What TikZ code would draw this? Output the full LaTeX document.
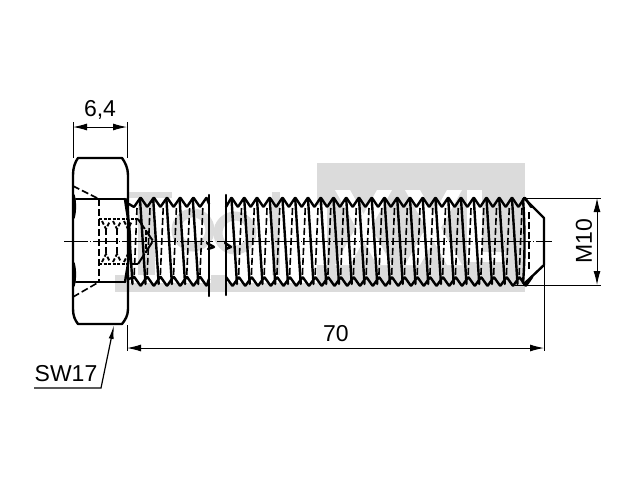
\documentclass[tikz,border=0pt]{standalone}
\usepackage{fontspec}
\setmainfont{Liberation Sans}
\usetikzlibrary{arrows.meta}
\tikzset{
  thick line/.style={line width=2.4pt, line join=round, line cap=round},
  wave line/.style={thick line, rounded corners=0.6pt},
  thin line/.style={line width=1pt},
  hidden line/.style={line width=1.6pt, dash pattern=on 7pt off 3pt},
  center line/.style={line width=1.2pt, dash pattern=on 24pt off 2pt on 1pt off 2pt},
  dim line/.style={line width=1pt, {Latex[length=14pt,width=7pt]}-{Latex[length=14pt,width=7pt]}},
  dim text/.style={font=\fontsize{23}{25}\selectfont, inner sep=0pt},
  water mark/.style={gray!28}
}
\begin{document}
\begin{tikzpicture}[x=1pt,y=-1pt]
  \useasboundingbox (0,0) rectangle (640,480);
  % watermark
  \fill[white] (0,0) rectangle (640,480);
  \fill[water mark] (317,163) rectangle (525,292);
  \fill[water mark] (115,283) rectangle (317,292);
  \fill[water mark] (115,275) rectangle (130,292);
  \fill[water mark] (211,275) rectangle (226,292);
  \fill[water mark] (128,192) rectangle (172,198);
  \fill[water mark] (138,198) rectangle (155,275);
  \fill[water mark] (272,192) rectangle (280,275);
  \draw[water mark, line width=9pt] (193,230) circle (17);
  \draw[water mark, line width=9pt] (235,233) circle (17);
  \fill[white] (335,190) -- (350,190) -- (392,265) -- (377,265) -- cycle;
  \fill[white] (377,190) -- (392,190) -- (350,265) -- (335,265) -- cycle;
  \fill[white] (405,190) -- (420,190) -- (462,265) -- (447,265) -- cycle;
  \fill[white] (447,190) -- (462,190) -- (420,265) -- (405,265) -- cycle;
  \fill[white] (317,205) rectangle (327,265);
  \fill[white] (467,190) rectangle (482,262);
  \fill[white] (467,252) rectangle (505,262);
  % thread, left part
  \draw[wave line] (129,204)
    \foreach \x in {134,147.2,...,200.5} { -- (\x,207) -- (\x+6.6,197.5) } -- (209,204);
  \draw[wave line] (129,279)
    \foreach \x in {134,147.2,...,200.5} { -- (\x,276.5) -- (\x+6.6,286) } -- (209,279);
  \foreach \x in {127,140,153.2,...,193.5}
    {
    \draw[thick line] (\x,199) -- (\x+5.5,284);
    \draw[hidden line] (\x+10,208) -- (\x+7,279);
    }
  % thread, right part
  \draw[wave line] (226,207)
    \foreach \k in {0,...,23} { -- (231.5+12.75*\k,197.5) -- (237.9+12.75*\k,207) };
  \draw[wave line] (226,277)
    \foreach \k in {0,...,23} { -- (232.5+12.75*\k,286) -- (238.9+12.75*\k,277) };
  \foreach \k in {0,...,22}
    {
    \pgfmathsetmacro{\x}{231.5+12.75*\k}
    \draw[thick line] (\x,199) -- (\x+5.5,284);
    \draw[hidden line] (\x+10,208) -- (\x+7,279);
    }
  % break lines
  \draw[thick line] (209,195) -- (209,296);
  \draw[thick line] (226,195) -- (226,295);
  \draw[thick line] (207,243) -- (214,247) -- (208,249);
  \draw[thick line] (225,243) -- (231,247) -- (226,249);
  % head
  \draw[thick line] (78,158) -- (122,158) .. controls (125,162) and (128,168) .. (128,175) -- (128,309)
    .. controls (128,316) and (125,320) .. (122,324) -- (78,324) .. controls (75,320) and (73,316) .. (73,309) -- (73,175)
    .. controls (73,168) and (75,162) .. (78,158) -- cycle;
  \draw[thick line] (76,199) -- (125,199);
  \draw[thick line] (76,282) -- (125,282);
  \draw[thick line] (73.5,195) .. controls (75.5,203) and (75.5,210) .. (73.5,218);
  \draw[thick line] (73.5,286) .. controls (75.5,278) and (75.5,271) .. (73.5,263);
  \draw[thick line] (125,199) .. controls (127,215) and (130,225) .. (130,241) .. controls (130,257) and (127,268) .. (125,282);
  \draw[hidden line] (73,186) -- (99,199);
  \draw[hidden line] (73,297) -- (99,282);
  % hole
  \draw[hidden line, line width=2pt] (99,199) -- (99,282);
  \draw[hidden line, line width=2pt, dash pattern=on 3pt off 1.5pt] (99,219) -- (138,219);
  \draw[hidden line, line width=2pt, dash pattern=on 3pt off 1.5pt] (99,264) -- (138,264);
  \draw[hidden line, line width=2pt, dash pattern=on 12pt off 2pt] (138,219) -- (153,241) -- (138,264);
  \draw[hidden line, dash pattern=on 5pt off 2pt] (146,230) -- (146,253);
  \foreach \x in {102,113,124}
    {
    \draw[hidden line, line width=2pt, dash pattern=on 4pt off 2pt] (\x,221) -- (\x+4,229) -- (\x+8,221);
    \draw[hidden line, line width=2pt, dash pattern=on 4pt off 2pt] (\x,262) -- (\x+4,254) -- (\x+8,262);
    \draw[hidden line, dash pattern=on 6pt off 3pt] (\x+4,229) -- (\x+4,254);
    }
  % tip
  \coordinate (tipa) at (544,218);
  \coordinate (tipb) at (544,265);
  \draw[thick line] (524,198) -- (tipa) -- (tipb) -- (524,284);
  \draw[thick line] (523,199) .. controls (525,225) and (525,260) .. (523,283);
  \draw[hidden line] (529,212) -- (529,270);
  % center line
  \draw[center line] (64,241.5) -- (213,241.5);
  \draw[center line] (217,241.5) -- (552,241.5);
  % dimensions
  \coordinate (heada) at (73,127);
  \coordinate (headb) at (127,127);
  \coordinate (lena) at (127,348);
  \coordinate (lenb) at (544,348);
  \coordinate (dia) at (597,198);
  \coordinate (dib) at (597,285);
  \draw[thin line] (73,122) -- (73,158);
  \draw[thin line] (127,122) -- (127,158);
  \draw[thin line] (127,325) -- (127,351);
  \draw[thin line] (544,265) -- (544,351);
  \draw[thin line] (524,198) -- (601,198);
  \draw[thin line] (515,285) -- (601,285);
  \draw[dim line] (heada) -- (headb);
  \draw[dim line] (lena) -- (lenb);
  \draw[dim line] (dia) -- (dib);
  \node[dim text] (widthlabel) at (100,110) {6,4};
  \node[dim text] (lengthlabel) at (336,334) {70};
  \node[dim text, rotate=90] (threadlabel) at (584,241) {M10};
  \node[dim text] (sizelabel) at (66,374) {SW17};
  % leader
  \coordinate (leadera) at (34,388);
  \coordinate (leaderb) at (101,388);
  \coordinate (leaderc) at (114,325);
  \draw[line width=1.2pt, -{Latex[length=14pt,width=5pt]}] (leadera) -- (leaderb) -- (leaderc);
\end{tikzpicture}
\end{document}
